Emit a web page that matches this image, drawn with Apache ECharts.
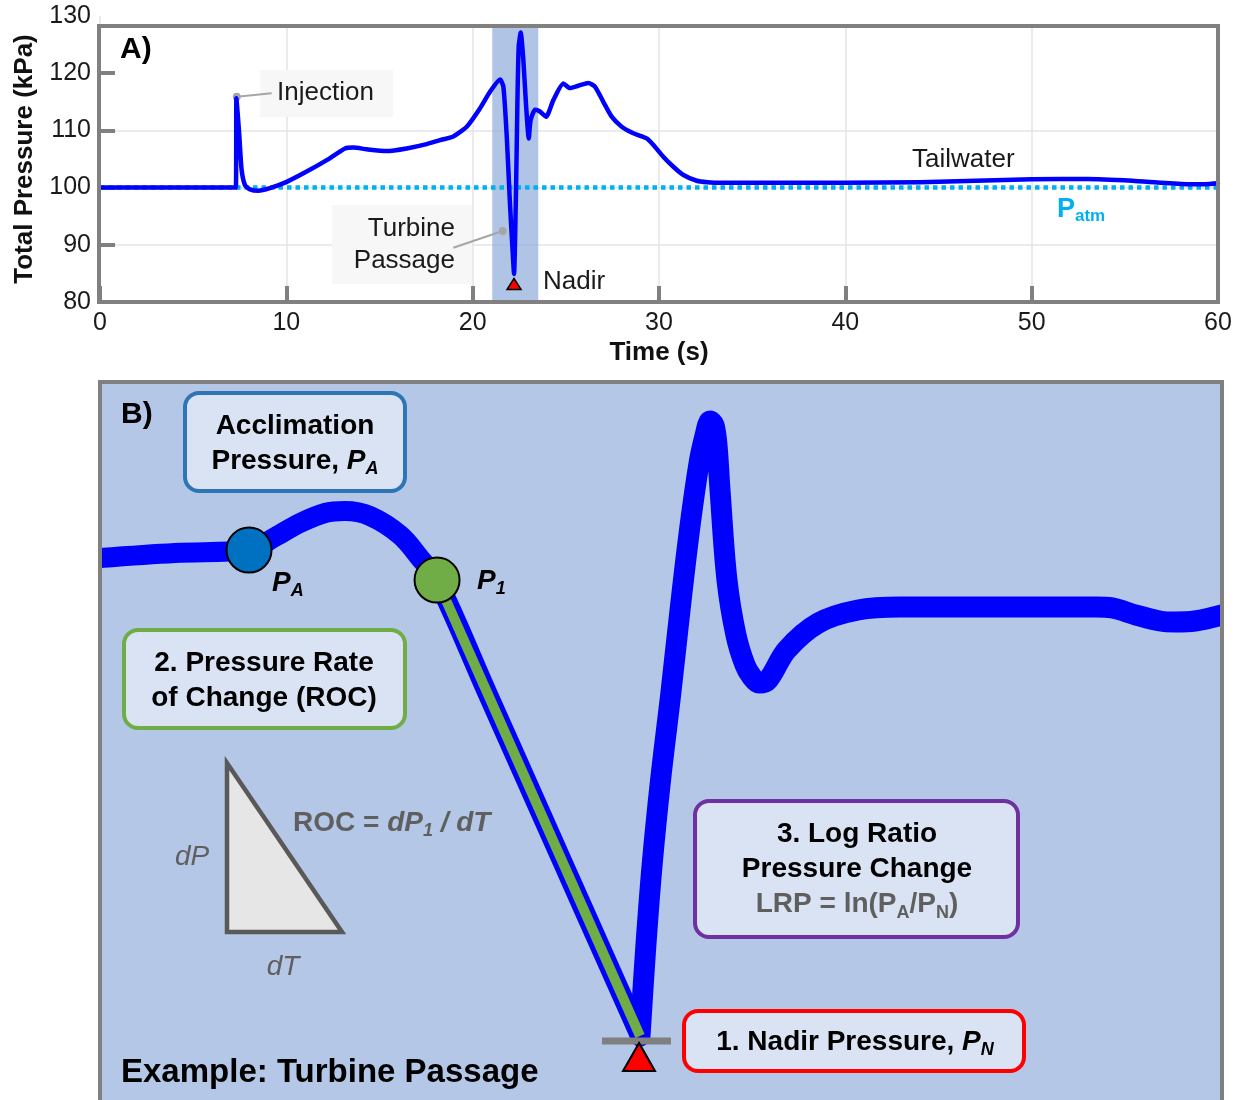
<!DOCTYPE html>
<html><head><meta charset="utf-8">
<script src="https://cdn.jsdelivr.net/npm/echarts@6/dist/echarts.min.js"></script>
<style>html,body{margin:0;padding:0;background:#fff}#c{width:1242px;height:1100px}</style>
</head><body><div id="c"></div>
<script>
// ---------- Panel A data ----------
const xTicksA = [0, 10, 20, 30, 40, 50, 60];
const yTicksA = [80, 90, 100, 110, 120, 130];
const timeA = [0, 5, 7.29, 7.32, 7.40, 7.48, 7.60, 7.78, 8.05, 8.5, 9.12, 10.02, 11.09, 12.17, 13.15, 13.6, 14.31, 15.38, 16.46, 17.53, 18.25, 18.96, 19.68, 20.39, 20.93, 21.47, 21.65, 21.83, 22.00, 22.15, 22.22, 22.33, 22.40, 22.47, 22.58, 22.72, 22.86, 23.01, 23.11, 23.35, 23.61, 23.94, 24.33, 24.87, 25.22, 25.67, 26.21, 26.57, 27.01, 27.46, 28.0, 28.62, 29.34, 29.7, 30.23, 30.77, 31.31, 32.02, 32.6, 33.3, 36, 40, 44, 47, 50, 53, 55.4, 57, 58.5, 59.3, 60];
const pressureA = [100, 100, 100, 115.6, 112.5, 108.9, 103.1, 100.45, 99.7, 99.45, 99.9, 101.0, 102.8, 104.8, 106.85, 107.0, 106.7, 106.4, 106.85, 107.6, 108.3, 108.95, 110.65, 113.85, 116.75, 118.9, 117.6, 108.9, 97.3, 88.5, 84.9, 100.2, 114.7, 124.6, 127.1, 122.3, 114.7, 108.6, 111.8, 113.6, 113.3, 112.4, 115.3, 118.2, 117.4, 117.8, 118.3, 117.6, 115.0, 112.4, 110.65, 109.5, 108.6, 107.45, 105.4, 103.65, 102.2, 101.2, 100.95, 100.85, 100.85, 100.85, 100.95, 101.2, 101.45, 101.5, 101.2, 100.85, 100.6, 100.6, 100.75];
const patmLevel = 100;
const patmSpan = [0, 60];
const turbineBand = [21.05, 23.52];
const frameTopA = 128.25;
const nadirA = [22.22, 83.15];
const injectionLeader = [[7.34, 115.89], [9.21, 116.49]];
const turbineLeader = [[21.61, 92.41], [18.96, 89.49]];

// ---------- Panel B data (zoomed turbine passage, relative units) ----------
const bLeftX = [0, 6.68, 13.28, 15.60, 17.83, 20.05, 21.84, 24.06, 26.74, 28.52, 30.04, 34.49, 38.95, 43.40, 48.13];
const bLeftY = [75.82, 76.51, 76.92, 78.71, 80.63, 82.01, 82.28, 81.59, 78.98, 75.82, 72.80, 57.38, 41.95, 26.52, 10.16];
const bRightX = [48.13, 48.64, 49.22, 49.97, 50.86, 51.69, 52.58, 53.39, 53.92, 54.37, 54.72, 54.99, 55.26, 55.88, 56.68, 57.49, 58.11, 58.73, 59.54, 61.20, 64.03, 67.56, 71.30, 80.21, 88.77, 90.20, 92.34, 94.47, 95.86, 97.59, 100.0];
const bRightY = [10.16, 22.31, 33.87, 45.45, 57.02, 68.60, 80.16, 88.85, 92.58, 94.64, 94.09, 91.35, 85.16, 72.80, 65.25, 61.13, 59.48, 58.65, 59.07, 63.19, 66.90, 68.68, 69.09, 69.09, 69.09, 68.96, 67.99, 67.17, 67.03, 67.17, 67.99];
const pointPA = [13.28, 76.92];
const pointP1 = [30.04, 72.80];
const rocSegment = [[30.04, 72.80], [48.13, 10.16]];
const nadirBarB = [[44.74, 9.48], [50.89, 9.48]];
const nadirB = [48.04, 7.28];

// ---------- build ----------
const FF = "'Liberation Sans', Arial, Helvetica, sans-serif";
const zip = (xs, ys) => xs.map((x, i) => [x, ys[i]]);

function txt(x, y, text, style) {
  return { type: 'text', x: x, y: y, z: 30, silent: true,
    style: Object.assign({ text: text, fill: '#111', fontFamily: FF, fontSize: 26, align: 'left', verticalAlign: 'middle' }, style) };
}
function tok(size, weight, italic, color, lh, va) {
  const o = { fontSize: size, fontWeight: weight, fontStyle: italic ? 'italic' : 'normal', fontFamily: FF, fill: color, lineHeight: lh };
  if (va) o.verticalAlign = va;
  return o;
}
const RICH = {
  b: tok(28, 'bold', false, '#000', 35),
  bi: tok(28, 'bold', true, '#000', 35),
  sub: tok(18, 'bold', true, '#000', 17, 'bottom'),
  g: tok(28, 'bold', false, '#5f5f5f', 35),
  gs: tok(18, 'bold', false, '#5f5f5f', 17, 'bottom'),
  gi: tok(28, 'bold', true, '#5f5f5f', 35),
  gis: tok(18, 'bold', true, '#5f5f5f', 17, 'bottom'),
  p: tok(27, 'bold', false, '#00b0f0', 30),
  ps: tok(17, 'bold', false, '#00b0f0', 14, 'bottom')
};
function rtxt(x, y, text, align) {
  return { type: 'text', x: x, y: y, z: 30, silent: true,
    style: { text: text, rich: RICH, fontFamily: FF, fontSize: 28, align: align || 'left', verticalAlign: 'middle' } };
}
function box(x, y, w, h, color) {
  return { type: 'rect', z: 20, silent: true, shape: { x: x, y: y, width: w, height: h, r: 14 },
    style: { fill: '#dae3f3', stroke: color, lineWidth: 4 } };
}
function cover(x, y, w, h) {
  return { type: 'rect', z: 27, silent: true, shape: { x: x, y: y, width: w, height: h }, style: { fill: '#ffffff' } };
}

const graphics = [
  // Panel A frame and annotation backgrounds
  cover(102, 0, 1140, 24),
  { type: 'rect', z: 1, silent: true, shape: { x: 260, y: 70, width: 133, height: 47 }, style: { fill: '#f7f7f7' } },
  { type: 'rect', z: 1, silent: true, shape: { x: 332, y: 205, width: 140, height: 79 }, style: { fill: '#f7f7f7' } },
  { type: 'rect', z: 28, silent: true, shape: { x: 99, y: 26, width: 1119, height: 276 }, style: { fill: null, stroke: '#808080', lineWidth: 4 } },
  txt(120, 50, 'A)', { fontSize: 30, fontWeight: 'bold', fill: '#000' }),
  txt(277, 93, 'Injection', { fill: '#1a1a1a' }),
  txt(455, 245, 'Turbine\nPassage', { align: 'right', lineHeight: 32, fill: '#1a1a1a' }),
  txt(543, 282, 'Nadir', { fill: '#1a1a1a' }),
  txt(912, 160, 'Tailwater', { fill: '#1a1a1a' }),
  rtxt(1057, 210, '{p|P}{ps|atm}'),
  // Panel B
  cover(0, 370, 99, 730),
  cover(1223, 370, 19, 730),
  { type: 'rect', z: 28, silent: true, shape: { x: 100, y: 382, width: 1122, height: 760 }, style: { fill: null, stroke: '#808080', lineWidth: 4 } },
  txt(121, 415, 'B)', { fontSize: 30, fontWeight: 'bold', fill: '#000' }),
  box(185, 393, 220, 98, '#2e75b6'),
  rtxt(295, 443.5, '{b|Acclimation}\n{b|Pressure, }{bi|P}{sub|A}', 'center'),
  box(124, 630, 281, 98, '#70ad47'),
  rtxt(264, 681, '{b|2. Pressure Rate}\n{b|of Change (ROC)}', 'center'),
  box(695, 801, 323, 136, '#7030a0'),
  rtxt(857, 869.5, '{b|3. Log Ratio}\n{b|Pressure Change}\n{g|LRP = ln(P}{gs|A}{g|/P}{gs|N}{g|)}', 'center'),
  box(684, 1011, 340, 60, '#ff0000'),
  rtxt(855, 1042, '{b|1. Nadir Pressure, }{bi|P}{sub|N}', 'center'),
  { type: 'polygon', z: 20, silent: true, shape: { points: [[227, 763], [227, 932], [342, 932]] },
    style: { fill: '#e7e6e6', stroke: '#595959', lineWidth: 4.5, lineJoin: 'miter' } },
  rtxt(293, 823, '{g|ROC = }{gi|dP}{gis|1}{gi| / dT}'),
  txt(192, 857, 'dP', { align: 'center', fontStyle: 'italic', fontSize: 28, fill: '#5f5f5f' }),
  txt(283, 967, 'dT', { align: 'center', fontStyle: 'italic', fontSize: 28, fill: '#5f5f5f' }),
  rtxt(272, 583, '{bi|P}{sub|A}'),
  rtxt(477, 581, '{bi|P}{sub|1}'),
  txt(121, 1073, 'Example: Turbine Passage', { fontSize: 33, fontWeight: 'bold', fill: '#000' })
];

const option = {
  animation: false,
  backgroundColor: '#ffffff',
  textStyle: { fontFamily: FF },
  grid: [
    { left: 100, right: 24, top: 16, bottom: 798, outerBoundsMode: 'none', containLabel: false },
    { left: 100, right: 20, top: 382, bottom: -10, outerBoundsMode: 'none', containLabel: false,
      show: true, backgroundColor: '#b4c7e7', borderColor: '#808080', borderWidth: 4 }
  ],
  xAxis: [
    { type: 'value', gridIndex: 0, min: xTicksA[0], max: xTicksA[xTicksA.length - 1], interval: xTicksA[1] - xTicksA[0],
      axisLine: { show: false, onZero: false },
      axisTick: { show: true, inside: true, length: 16, lineStyle: { color: '#808080', width: 4 } },
      axisLabel: { fontSize: 25, color: '#1a1a1a', margin: 9, fontFamily: FF },
      splitLine: { show: true, lineStyle: { color: '#e4e4e4', width: 1.5 } },
      name: 'Time (s)', nameLocation: 'middle', nameGap: 38,
      nameTextStyle: { fontSize: 26, fontWeight: 'bold', color: '#111', fontFamily: FF } },
    { type: 'value', gridIndex: 1, min: 0, max: 100, show: false }
  ],
  yAxis: [
    { type: 'value', gridIndex: 0, min: yTicksA[0], max: yTicksA[yTicksA.length - 1], interval: yTicksA[1] - yTicksA[0],
      axisLine: { show: false, onZero: false },
      axisTick: { show: true, inside: true, length: 15, lineStyle: { color: '#808080', width: 4 }, customValues: yTicksA.slice(0, -1) },
      axisLabel: { fontSize: 25, color: '#1a1a1a', margin: 9, fontFamily: FF },
      splitLine: { show: true, showMaxLine: false, showMinLine: false, lineStyle: { color: '#e4e4e4', width: 1.5 } },
      name: 'Total Pressure (kPa)', nameLocation: 'middle', nameGap: 62, nameRotate: 90,
      nameTextStyle: { fontSize: 26, fontWeight: 'bold', color: '#111', fontFamily: FF } },
    { type: 'value', gridIndex: 1, min: 0, max: 100, show: false }
  ],
  series: [
    // shaded turbine-passage band
    { type: 'line', xAxisIndex: 0, yAxisIndex: 0, data: [], z: 1, silent: true,
      markArea: { silent: true, itemStyle: { color: 'rgba(143,172,220,0.7)' },
        data: [[{ xAxis: turbineBand[0], yAxis: yTicksA[0] }, { xAxis: turbineBand[1], yAxis: frameTopA }]] } },
    // atmospheric pressure reference
    { type: 'line', xAxisIndex: 0, yAxisIndex: 0, z: 2, silent: true, symbol: 'none',
      data: patmSpan.map(t => [t, patmLevel]),
      lineStyle: { color: '#00b0f0', width: 4.5, type: [4.5, 4] } },
    // leaders
    { type: 'line', xAxisIndex: 0, yAxisIndex: 0, z: 3, silent: true, symbol: 'none', data: injectionLeader,
      lineStyle: { color: '#a6a6a6', width: 2 } },
    { type: 'line', xAxisIndex: 0, yAxisIndex: 0, z: 3, silent: true, symbol: 'none', data: turbineLeader,
      lineStyle: { color: '#a6a6a6', width: 2 } },
    { type: 'scatter', xAxisIndex: 0, yAxisIndex: 0, z: 3, silent: true, symbolSize: 8,
      data: [injectionLeader[0], turbineLeader[0]], itemStyle: { color: '#a6a6a6', opacity: 1 } },
    // pressure trace
    { type: 'line', xAxisIndex: 0, yAxisIndex: 0, z: 4, silent: true, symbol: 'none', smooth: 0.2,
      data: zip(timeA, pressureA), lineStyle: { color: '#0000ff', width: 4.5, join: 'round', cap: 'round' } },
    { type: 'scatter', xAxisIndex: 0, yAxisIndex: 0, z: 5, silent: true, symbol: 'triangle', symbolSize: [14, 11],
      data: [nadirA], itemStyle: { color: '#ff0000', borderColor: '#000', borderWidth: 1.5, opacity: 1 } },

    // ---- panel B ----
    { type: 'line', xAxisIndex: 1, yAxisIndex: 1, z: 4, silent: true, symbol: 'none', smooth: 0.35,
      data: zip(bLeftX, bLeftY), lineStyle: { color: '#0000ff', width: 20, cap: 'round', join: 'round' } },
    { type: 'line', xAxisIndex: 1, yAxisIndex: 1, z: 4, silent: true, symbol: 'none', smooth: 0.35,
      data: zip(bRightX, bRightY), lineStyle: { color: '#0000ff', width: 21, cap: 'round', join: 'round' } },
    { type: 'line', xAxisIndex: 1, yAxisIndex: 1, z: 5, silent: true, symbol: 'none',
      data: rocSegment, lineStyle: { color: '#70ad47', width: 10 } },
    { type: 'line', xAxisIndex: 1, yAxisIndex: 1, z: 6, silent: true, symbol: 'none',
      data: nadirBarB, lineStyle: { color: '#808080', width: 7 } },
    { type: 'scatter', xAxisIndex: 1, yAxisIndex: 1, z: 7, silent: true, symbol: 'triangle', symbolSize: [32, 28],
      data: [nadirB], itemStyle: { color: '#ff0000', borderColor: '#000', borderWidth: 2, opacity: 1 } },
    { type: 'scatter', xAxisIndex: 1, yAxisIndex: 1, z: 7, silent: true, symbolSize: 45,
      data: [pointPA], itemStyle: { color: '#0070c0', borderColor: '#000', borderWidth: 2, opacity: 1 } },
    { type: 'scatter', xAxisIndex: 1, yAxisIndex: 1, z: 7, silent: true, symbolSize: 45,
      data: [pointP1], itemStyle: { color: '#70ad47', borderColor: '#000', borderWidth: 2, opacity: 1 } }
  ],
  graphic: { elements: graphics }
};

const chart = echarts.init(document.getElementById('c'), null, { renderer: 'canvas', width: 1242, height: 1100 });
chart.setOption(option);
</script>
</body></html>
